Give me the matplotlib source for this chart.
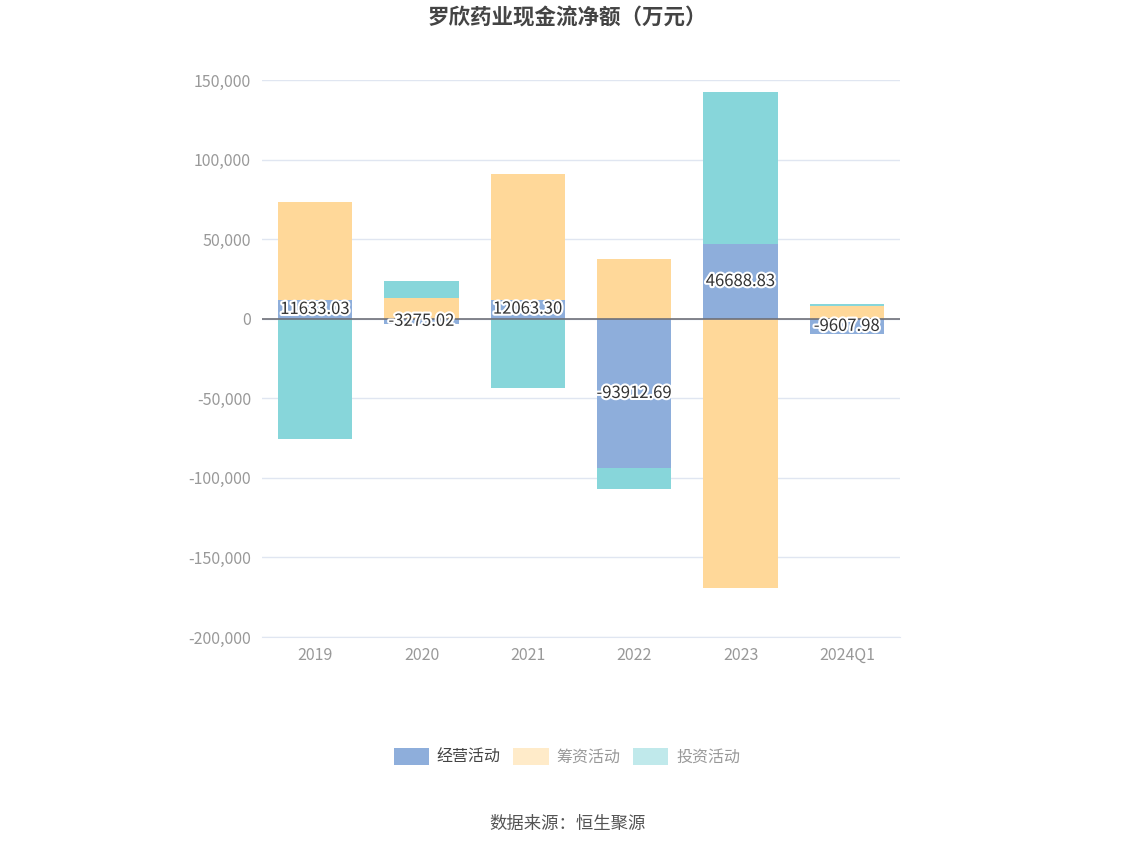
import numpy as np
import matplotlib
matplotlib.use("Agg")
import matplotlib.pyplot as plt
import matplotlib.patheffects as pe
from matplotlib.patches import Patch

plt.rcParams['font.family'] = ['Noto Sans CJK SC', 'DejaVu Sans']

years = ["2019", "2020", "2021", "2022", "2023", "2024Q1"]
operating = [11633.03, -3275.02, 12063.30, -93912.69, 46688.83, -9607.98]
financing = [61470, 13000, 78690, 37800, -168900, 8000]
investing = [-75600, 10500, -43500, -13200, 95750, 1000]

series = [("经营活动", operating, "#8eaedb"),
          ("筹资活动", financing, "#ffd899"),
          ("投资活动", investing, "#87d6da")]

fig = plt.figure(figsize=(11.34, 8.49), dpi=100)
ax = fig.add_axes([262 / 1134, 212 / 849, 638 / 1134, 557 / 849])

x = np.arange(len(years))
pos_base = np.zeros(len(years))
neg_base = np.zeros(len(years))
for name, vals, color in series:
    vals = np.array(vals, dtype=float)
    base = np.where(vals >= 0, pos_base, neg_base)
    ax.bar(x, vals, bottom=base, width=0.7, color=color, zorder=2)
    pos_base = pos_base + np.where(vals >= 0, vals, 0)
    neg_base = neg_base + np.where(vals < 0, vals, 0)

# 经营活动 数值标签
for i, v in enumerate(operating):
    ax.text(x[i], v / 2, f"{v:.2f}", ha="center", va="center", fontsize=12,
            color="#333333", zorder=4,
            path_effects=[pe.withStroke(linewidth=3, foreground="white")])

ax.set_xlim(-0.5, len(years) - 0.5)
ax.set_ylim(-200000, 150000)
ax.set_yticks(np.arange(-200000, 150001, 50000))
ax.set_yticklabels([f"{t:,}" for t in range(-200000, 150001, 50000)])
ax.grid(axis="y", color="#e0e6f1", linewidth=1, zorder=0)
ax.axhline(0, color="#6e7079", linewidth=1.2, zorder=3)
ax.set_xticks(x)
ax.set_xticklabels(years)
ax.tick_params(axis="both", length=0, labelsize=11.5, colors="#999999")
ax.tick_params(axis="x", pad=7)
ax.tick_params(axis="y", pad=8)
for s in ["top", "right", "left"]:
    ax.spines[s].set_visible(False)
ax.spines["bottom"].set_color("#e0e6f1")

fig.text(0.5, 1 - 18 / 849, "罗欣药业现金流净额（万元）", ha="center", va="center",
         fontsize=15.5, fontweight="bold", color="#444444")

handles = [Patch(facecolor="#8eaedb", label="经营活动"),
           Patch(facecolor="#ffebc9", label="筹资活动"),
           Patch(facecolor="#c0e9eb", label="投资活动")]
leg = fig.legend(handles=handles, loc="center", bbox_to_anchor=(0.5, 1 - 757 / 849),
                 ncol=3, frameon=False, fontsize=11.5, handlelength=2.2,
                 handleheight=1.3, columnspacing=0.8, handletextpad=0.5)
for t, c in zip(leg.get_texts(), ["#444444", "#999999", "#999999"]):
    t.set_color(c)

fig.text(0.5, 1 - 824 / 849, "数据来源：恒生聚源", ha="center", va="center",
         fontsize=12.5, color="#555555")

fig.savefig("out.png", dpi=100)
